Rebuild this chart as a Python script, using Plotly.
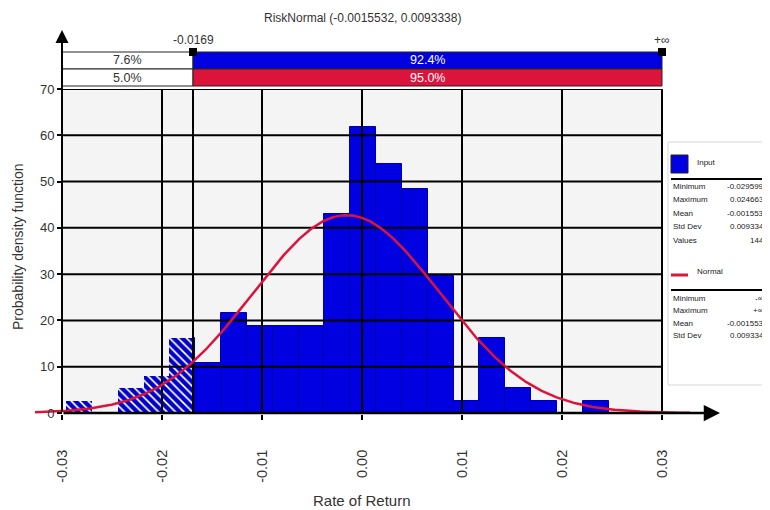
import numpy as np
import plotly.graph_objects as go

# ---------------- data ----------------
bin_counts = [1, 0, 2, 3, 6, 4, 8, 7, 7, 7, 16, 23, 20, 18, 11, 1, 6, 2, 1, 0, 1]
input_min = -0.029599
input_max = 0.024663
input_values = 144
dist_mean = -0.0015532
dist_std = 0.0093338
cut_value = -0.0169
cut_label = "-0.0169"
right_label = "+∞"
input_pcts = ["7.6%", "92.4%"]
normal_pcts = ["5.0%", "95.0%"]
x_tick_vals = [-0.03, -0.02, -0.01, 0.0, 0.01, 0.02, 0.03]
x_tick_text = ["-0.03", "-0.02", "-0.01", "0.00", "0.01", "0.02", "0.03"]
y_tick_vals = [0, 10, 20, 30, 40, 50, 60, 70]
input_stats_labels = ["Minimum", "Maximum", "Mean", "Std Dev", "Values"]
input_stats_values = ["-0.029599", "0.024663", "-0.001553", "0.009334", "144"]
normal_stats_labels = ["Minimum", "Maximum", "Mean", "Std Dev"]
normal_stats_values = ["-∞", "+∞", "-0.001553", "0.009334"]
title_text = "RiskNormal (-0.0015532, 0.0093338)"

# ---------------- layout geometry (reference pixel coords) ----------------
OFF = 8                      # page body margin
W, H = 770 - OFF, 510 - OFF
L, R, T, B = 35, 722, 89, 414  # plot area in reference pixels
XR = [-0.0327, 0.036]
YR = [-0.216, 70]

def px(p):
    return (p - L) / (R - L)

def py(p):
    return (B - p) / (B - T)

BLUE = "#0000e0"
RED = "#dc143c"
FONT = "Liberation Sans"
TXT = "#333"

annotations = []
shapes = []

def ann(x, y, text, xref="paper", yref="paper", xanchor="center", size=12, color=TXT, **kw):
    annotations.append(dict(x=x, y=y, xref=xref, yref=yref, text=text, showarrow=False,
                            xanchor=xanchor, yanchor="middle",
                            font=dict(family=FONT, size=size, color=color), **kw))

# ---------------- bars ----------------
nb = len(bin_counts)
bw = (input_max - input_min) / nb
edges = [input_min + bw * i for i in range(nb + 1)]
dens = [c / (input_values * bw) for c in bin_counts]

h_x, h_w, h_y, s_x, s_w, s_y = [], [], [], [], [], []
for i in range(nb):
    if bin_counts[i] == 0:
        continue
    l, r = edges[i], edges[i + 1]
    if r <= cut_value:
        h_x.append(l); h_w.append(r - l); h_y.append(dens[i])
    elif l < cut_value:
        h_x.append(l); h_w.append(cut_value - l); h_y.append(dens[i])
        s_x.append(cut_value); s_w.append(r - cut_value); s_y.append(dens[i])
    else:
        s_x.append(l); s_w.append(r - l); s_y.append(dens[i])

fig = go.Figure()
fig.add_trace(go.Bar(x=h_x, y=h_y, width=h_w, offset=0,
                     marker=dict(color="white", line=dict(width=0),
                                 pattern=dict(shape="\\", fgcolor="#0000c8", bgcolor="white",
                                              fgopacity=1, size=6, solidity=0.7)),
                     hoverinfo="skip", showlegend=False))
fig.add_trace(go.Bar(x=s_x, y=s_y, width=s_w, offset=0,
                     marker=dict(color=BLUE, line=dict(color="#0000a8", width=1)),
                     hoverinfo="skip", showlegend=False))

# grid lines (drawn above bars)
gx, gy = [], []
for v in x_tick_vals[1:] + [cut_value]:
    gx += [v, v, None]; gy += [0, 70, None]
for v in y_tick_vals[1:]:
    gx += [x_tick_vals[0], x_tick_vals[-1], None]; gy += [v, v, None]
fig.add_trace(go.Scatter(x=gx, y=gy, mode="lines", line=dict(color="black", width=2),
                         hoverinfo="skip", showlegend=False))

# fitted RiskNormal density
xs = np.linspace(-0.0327, 0.0328, 500)
ys = np.exp(-0.5 * ((xs - dist_mean) / dist_std) ** 2) / (dist_std * np.sqrt(2 * np.pi))
fig.add_trace(go.Scatter(x=xs, y=ys, mode="lines", line=dict(color=RED, width=2.5),
                         hoverinfo="skip", showlegend=False))

# plot background
shapes.append(dict(type="rect", xref="x", yref="y", x0=x_tick_vals[0], x1=x_tick_vals[-1],
                   y0=0, y1=70, fillcolor="#f4f4f4", line=dict(width=0), layer="below"))

# top percentage bars
rows = [(52, 69, BLUE, input_pcts), (69, 86, RED, normal_pcts)]
for (t, b, col, pcts) in rows:
    shapes.append(dict(type="rect", xref="x", yref="paper", x0=x_tick_vals[0], x1=cut_value,
                       y0=py(b), y1=py(t), fillcolor="white", line=dict(color="#222", width=1)))
    shapes.append(dict(type="rect", xref="x", yref="paper", x0=cut_value, x1=x_tick_vals[-1],
                       y0=py(b), y1=py(t), fillcolor=col, line=dict(color="#222", width=1)))
    ann((x_tick_vals[0] + cut_value) / 2, py((t + b) / 2), pcts[0], xref="x", size=12.5)
    ann((cut_value + x_tick_vals[-1]) / 2, py((t + b) / 2), pcts[1], xref="x", color="white",
        size=12.5)

# boundary markers and labels
for v in [cut_value, x_tick_vals[-1]]:
    shapes.append(dict(type="rect", xref="x", yref="paper", x0=v - 0.0004, x1=v + 0.0004,
                       y0=py(56), y1=py(48), fillcolor="black", line=dict(width=0)))
ann(cut_value, py(40), cut_label, xref="x")
ann(x_tick_vals[-1], py(40), right_label, xref="x")

# title
ann(0, py(18), title_text, xref="x")

# axis arrows
annotations.append(dict(x=x_tick_vals[0], y=py(30), xref="x", yref="paper", ax=0, ay=383,
                        axref="pixel", ayref="pixel", text="", showarrow=True,
                        arrowhead=2, arrowsize=1.3, arrowwidth=2, arrowcolor="black", standoff=0))
annotations.append(dict(x=px(720), y=0, xref="paper", yref="y", ax=-658, ay=0,
                        axref="pixel", ayref="pixel", text="", showarrow=True,
                        arrowhead=2, arrowsize=1.3, arrowwidth=2.5, arrowcolor="black", standoff=0))

# axis titles
ann(0, py(500), "Rate of Return", xref="x", size=15)
ann(px(18), py(247), "Probability density function", size=14, textangle=-90)

# legend panel
shapes.append(dict(type="rect", xref="paper", yref="paper", x0=px(668), x1=px(775),
                   y0=py(385), y1=py(142), line=dict(color="#d8d8d8", width=1),
                   fillcolor="rgba(0,0,0,0)"))
shapes.append(dict(type="rect", xref="paper", yref="paper", x0=px(671), x1=px(688),
                   y0=py(173), y1=py(155), fillcolor=BLUE, line=dict(color="#222", width=1)))
ann(px(695), py(162), "Input", xanchor="left", size=8, color="#222")
shapes.append(dict(type="line", xref="paper", yref="paper", x0=px(671), x1=px(775),
                   y0=py(179), y1=py(179), line=dict(color="black", width=2)))
for i, (lab, val) in enumerate(zip(input_stats_labels, input_stats_values)):
    yy = py(186 + i * 13.5)
    ann(px(671), yy, lab, xanchor="left", size=8, color="#222")
    ann(px(766), yy, val, xanchor="right", size=8, color="#222")

shapes.append(dict(type="line", xref="paper", yref="paper", x0=px(671), x1=px(688),
                   y0=py(275), y1=py(275), line=dict(color=RED, width=3)))
ann(px(695), py(271), "Normal", xanchor="left", size=8, color="#222")
shapes.append(dict(type="line", xref="paper", yref="paper", x0=px(671), x1=px(775),
                   y0=py(290), y1=py(290), line=dict(color="black", width=2)))
for i, (lab, val) in enumerate(zip(normal_stats_labels, normal_stats_values)):
    yy = py(298 + i * 12.5)
    ann(px(671), yy, lab, xanchor="left", size=8, color="#222")
    ann(px(766), yy, val, xanchor="right", size=8, color="#222")

fig.update_layout(
    width=W, height=H,
    margin=dict(l=L - OFF, r=770 - R, t=T - OFF, b=510 - B, pad=0),
    paper_bgcolor="white", plot_bgcolor="white",
    barmode="overlay", bargap=0,
    showlegend=False,
    shapes=shapes, annotations=annotations,
    xaxis=dict(range=XR, tickvals=x_tick_vals, ticktext=x_tick_text, tickangle=-90,
               ticks="outside", ticklen=5, tickwidth=1.5, tickcolor="black",
               ticklabelstandoff=24,
               showgrid=False, zeroline=False, showline=False, fixedrange=True,
               tickfont=dict(family=FONT, size=14.5, color=TXT)),
    yaxis=dict(range=YR, tickvals=y_tick_vals, anchor="free", position=px(62),
               ticks="outside", ticklen=5, tickwidth=1.5, tickcolor="black",
               showgrid=False, zeroline=False, showline=False, fixedrange=True,
               tickfont=dict(family=FONT, size=13, color=TXT)),
)

fig.write_html("out.html")
